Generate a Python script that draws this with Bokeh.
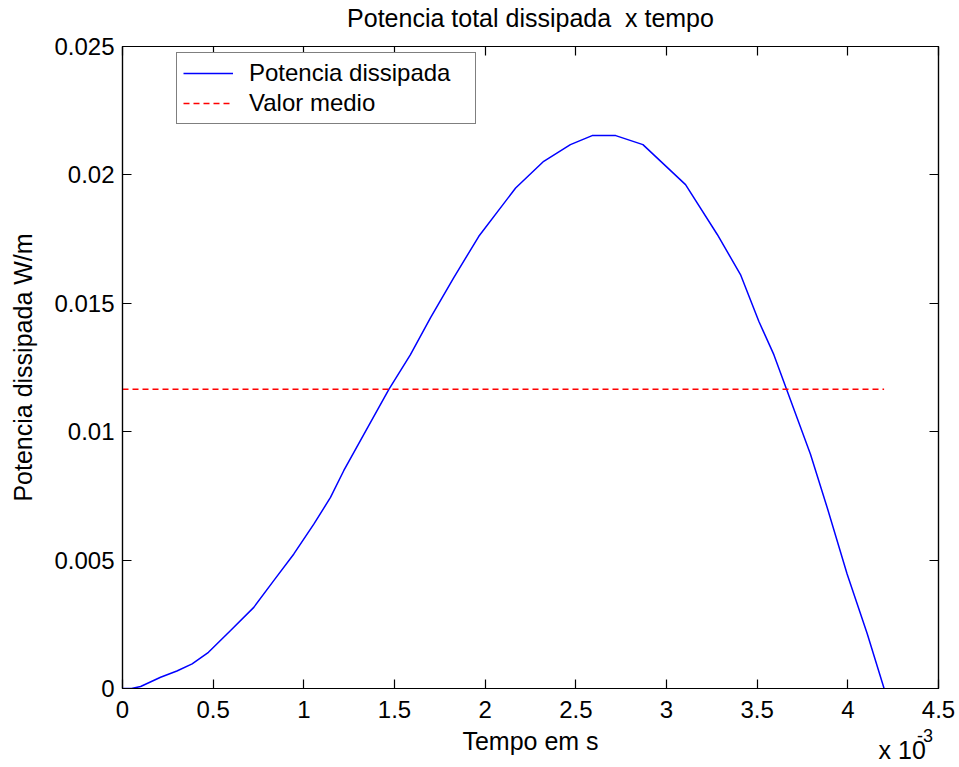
from bokeh.plotting import figure
from bokeh.models import LinearAxis, Range1d, Legend, LegendItem, FixedTicker
from bokeh.embed import file_html
from bokeh.resources import INLINE

# Time samples (ms, axis shown as x 10^-3 s) and dissipated power (W/m)
tempo_ms = [0, 0.05, 0.1, 0.21, 0.3, 0.384, 0.474, 0.596, 0.724, 0.834, 0.945,
            1.055, 1.147, 1.22, 1.331, 1.469, 1.588, 1.699, 1.827, 1.965,
            2.168, 2.323, 2.47, 2.59, 2.72, 2.87, 3.105, 3.28, 3.408, 3.509,
            3.592, 3.662, 3.794, 3.886, 3.996, 4.107, 4.2]
potencia = [0, 0, 0.00008, 0.00044, 0.00068, 0.00096, 0.00141, 0.00226,
            0.00316, 0.0042, 0.00524, 0.0064, 0.00744, 0.00848, 0.0099,
            0.01165, 0.0130, 0.01444, 0.0160, 0.01761, 0.01949, 0.02053,
            0.02118, 0.02153, 0.02153, 0.02118, 0.01962, 0.01768, 0.01612,
            0.0143, 0.0130, 0.01165, 0.00912, 0.00705, 0.00446, 0.00213, 0]

valor_medio = 0.01165
medio_t = [0, 4.2]

x_ticks = [0, 0.5, 1, 1.5, 2, 2.5, 3, 3.5, 4, 4.5]
y_ticks = [0, 0.005, 0.01, 0.015, 0.02, 0.025]

TITLE = "Potencia total dissipada \u00a0x tempo"
XLABEL = "Tempo em s"
YLABEL = "Potencia dissipada W/m"
FONT = "Liberation Sans"

p = figure(width=959, height=767, output_backend="svg", toolbar_location=None,
           x_range=Range1d(0, 4.5), y_range=Range1d(0, 0.025),
           min_border_left=122, min_border_right=21,
           min_border_top=45, min_border_bottom=79,
           y_axis_label=YLABEL)

p.grid.visible = False
p.outline_line_color = "black"
p.outline_line_width = 1.2
p.background_fill_color = "white"
p.border_fill_color = "white"


def style_box_axis(ax):
    ax.major_tick_in = 9
    ax.major_tick_out = 0
    ax.minor_tick_line_color = None
    ax.axis_line_color = "black"
    ax.axis_line_width = 1.2
    ax.major_tick_line_width = 1.2


def style_label(ax, size="25px"):
    ax.axis_label_text_font = FONT
    ax.axis_label_text_font_size = size
    ax.axis_label_text_font_style = "normal"
    ax.axis_label_text_color = "black"


for ax in (p.xaxis[0], p.yaxis[0]):
    style_box_axis(ax)
    style_label(ax)
    ax.major_label_text_font = FONT
    ax.major_label_text_font_size = "24px"
    ax.major_label_text_color = "black"

p.xaxis[0].ticker = FixedTicker(ticks=x_ticks)
p.yaxis[0].ticker = FixedTicker(ticks=y_ticks)
p.xaxis[0].major_label_overrides = {t: f"{t:g}" for t in x_ticks}
p.yaxis[0].major_label_overrides = {t: f"{t:g}" for t in y_ticks}
p.xaxis[0].major_label_standoff = 12
p.yaxis[0].major_label_standoff = 8
p.yaxis[0].axis_label_standoff = 14

# Top axis: ticks only, carries the chart title as its label
top = LinearAxis(ticker=FixedTicker(ticks=x_ticks), axis_label=TITLE)
style_box_axis(top)
style_label(top)
top.major_label_text_font_size = "1px"
top.major_label_text_color = None
top.major_label_standoff = 0
top.axis_label_standoff = 15
p.add_layout(top, "above")

# Right axis: ticks only
right = LinearAxis(ticker=FixedTicker(ticks=y_ticks))
style_box_axis(right)
right.major_label_text_font_size = "1px"
right.major_label_text_color = None
right.major_label_standoff = 0
p.add_layout(right, "right")


def text_axis(pos, txt, size, standoff):
    ax = LinearAxis(ticker=FixedTicker(ticks=[pos]),
                    major_label_overrides={pos: txt})
    ax.axis_line_color = None
    ax.major_tick_line_color = None
    ax.minor_tick_line_color = None
    ax.major_tick_in = 0
    ax.major_tick_out = 0
    ax.major_label_standoff = standoff
    ax.major_label_text_font = FONT
    ax.major_label_text_font_size = size
    ax.major_label_text_color = "black"
    return ax


# Second row under the time axis: axis title plus the "x 10^-3" multiplier
mult = text_axis(4.30, "x 10", "25px", 15)
mult.axis_label = XLABEL
style_label(mult)
mult.axis_label_standoff = -40
p.add_layout(mult, "below")

expo = text_axis(4.425, "-3", "18px", -29)
p.add_layout(expo, "below")

r_pot = p.line(tempo_ms, potencia, line_color="#0000ff", line_width=1.5)
r_med = p.line(medio_t, [valor_medio, valor_medio], line_color="#ff0000",
               line_width=1.5, line_dash="6 4")

legend = Legend(items=[LegendItem(label="Potencia dissipada", renderers=[r_pot]),
                       LegendItem(label="Valor medio", renderers=[r_med])],
                location=(54, 564))
legend.label_text_font = FONT
legend.label_text_font_size = "24px"
legend.label_text_color = "black"
legend.border_line_color = "black"
legend.border_line_width = 1.2
legend.glyph_width = 50
legend.glyph_height = 24
legend.label_height = 24
legend.label_width = 220
legend.spacing = 2
legend.padding = 6
legend.margin = 0
legend.label_standoff = 16
legend.background_fill_alpha = 1
p.add_layout(legend)

open("out.html", "w").write(file_html(p, INLINE))
